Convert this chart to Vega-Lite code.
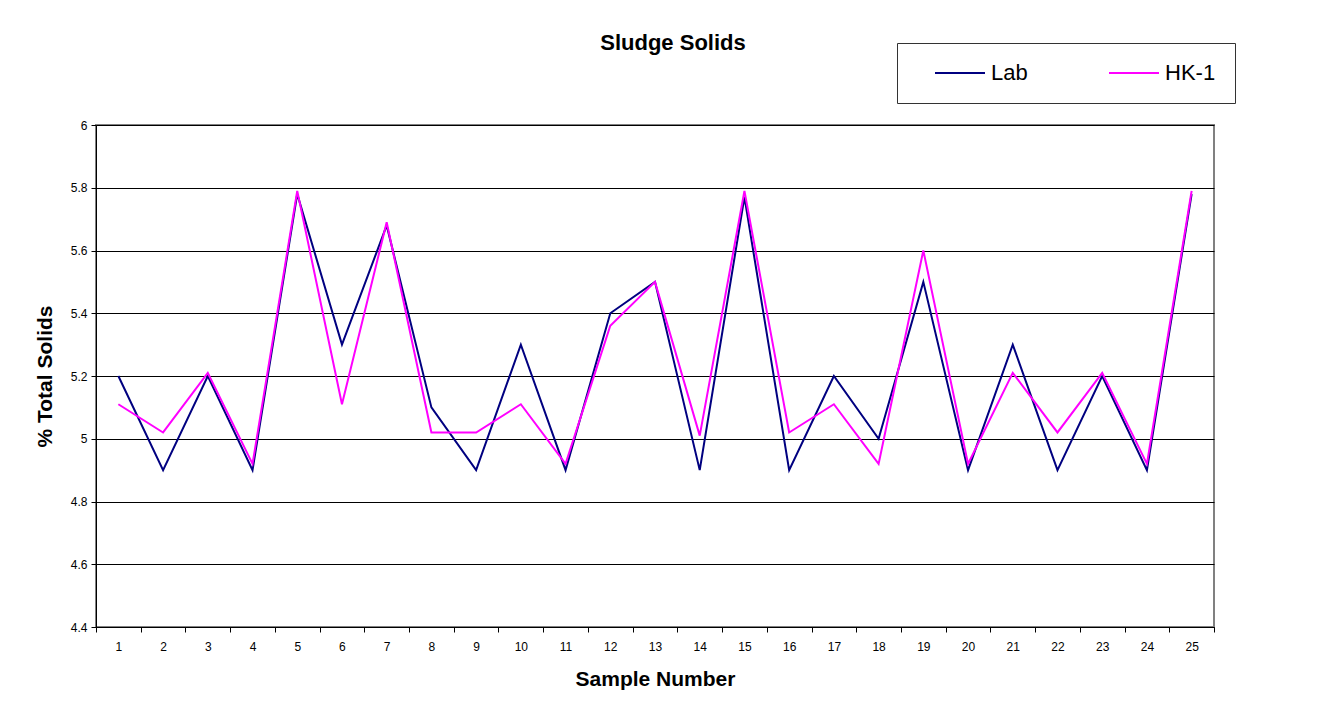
{
  "$schema": "https://vega.github.io/schema/vega-lite/v6.json",
  "autosize": {"type": "none"},
  "padding": {"left": 96, "top": 125, "right": 125, "bottom": 85},
  "width": 1118,
  "height": 502,
  "background": "white",
  "title": {
    "text": "Sludge Solids",
    "anchor": "middle",
    "frame": "group",
    "offset": -12,
    "dx": 18,
    "font": "Liberation Sans",
    "fontSize": 22,
    "fontWeight": "bold",
    "color": "black"
  },
  "data": {
    "values": [
      {"sample": 1, "series": "Lab", "solids": 5.2},
      {"sample": 2, "series": "Lab", "solids": 4.9},
      {"sample": 3, "series": "Lab", "solids": 5.2},
      {"sample": 4, "series": "Lab", "solids": 4.9},
      {"sample": 5, "series": "Lab", "solids": 5.78},
      {"sample": 6, "series": "Lab", "solids": 5.3},
      {"sample": 7, "series": "Lab", "solids": 5.68},
      {"sample": 8, "series": "Lab", "solids": 5.1},
      {"sample": 9, "series": "Lab", "solids": 4.9},
      {"sample": 10, "series": "Lab", "solids": 5.3},
      {"sample": 11, "series": "Lab", "solids": 4.9},
      {"sample": 12, "series": "Lab", "solids": 5.4},
      {"sample": 13, "series": "Lab", "solids": 5.5},
      {"sample": 14, "series": "Lab", "solids": 4.9},
      {"sample": 15, "series": "Lab", "solids": 5.77},
      {"sample": 16, "series": "Lab", "solids": 4.9},
      {"sample": 17, "series": "Lab", "solids": 5.2},
      {"sample": 18, "series": "Lab", "solids": 5.0},
      {"sample": 19, "series": "Lab", "solids": 5.5},
      {"sample": 20, "series": "Lab", "solids": 4.9},
      {"sample": 21, "series": "Lab", "solids": 5.3},
      {"sample": 22, "series": "Lab", "solids": 4.9},
      {"sample": 23, "series": "Lab", "solids": 5.2},
      {"sample": 24, "series": "Lab", "solids": 4.9},
      {"sample": 25, "series": "Lab", "solids": 5.78},
      {"sample": 1, "series": "HK-1", "solids": 5.11},
      {"sample": 2, "series": "HK-1", "solids": 5.02},
      {"sample": 3, "series": "HK-1", "solids": 5.21},
      {"sample": 4, "series": "HK-1", "solids": 4.92},
      {"sample": 5, "series": "HK-1", "solids": 5.79},
      {"sample": 6, "series": "HK-1", "solids": 5.11},
      {"sample": 7, "series": "HK-1", "solids": 5.69},
      {"sample": 8, "series": "HK-1", "solids": 5.02},
      {"sample": 9, "series": "HK-1", "solids": 5.02},
      {"sample": 10, "series": "HK-1", "solids": 5.11},
      {"sample": 11, "series": "HK-1", "solids": 4.92},
      {"sample": 12, "series": "HK-1", "solids": 5.36},
      {"sample": 13, "series": "HK-1", "solids": 5.5},
      {"sample": 14, "series": "HK-1", "solids": 5.01},
      {"sample": 15, "series": "HK-1", "solids": 5.79},
      {"sample": 16, "series": "HK-1", "solids": 5.02},
      {"sample": 17, "series": "HK-1", "solids": 5.11},
      {"sample": 18, "series": "HK-1", "solids": 4.92},
      {"sample": 19, "series": "HK-1", "solids": 5.6},
      {"sample": 20, "series": "HK-1", "solids": 4.92},
      {"sample": 21, "series": "HK-1", "solids": 5.21},
      {"sample": 22, "series": "HK-1", "solids": 5.02},
      {"sample": 23, "series": "HK-1", "solids": 5.21},
      {"sample": 24, "series": "HK-1", "solids": 4.92},
      {"sample": 25, "series": "HK-1", "solids": 5.79}
    ]
  },
  "mark": {"type": "line", "strokeWidth": 2},
  "encoding": {
    "x": {
      "field": "sample",
      "type": "ordinal",
      "scale": {"type": "band", "paddingInner": 0, "paddingOuter": 0},
      "axis": {
        "title": "Sample Number",
        "labelAngle": 0,
        "tickBand": "extent",
        "tickSize": 5,
        "tickColor": "black",
        "domainColor": "black",
        "labelPadding": 9,
        "labelFont": "Liberation Sans",
        "labelFontSize": 12,
        "labelColor": "black",
        "titleFont": "Liberation Sans",
        "titleFontSize": 21,
        "titleFontWeight": "bold",
        "titleColor": "black",
        "titlePadding": 16,
        "grid": false
      }
    },
    "y": {
      "field": "solids",
      "type": "quantitative",
      "scale": {"domain": [4.4, 6], "nice": false, "zero": false},
      "axis": {
        "title": "% Total Solids",
        "values": [4.4, 4.6, 4.8, 5, 5.2, 5.4, 5.6, 5.8, 6],
        "format": "~g",
        "tickSize": 5,
        "tickColor": "black",
        "domainColor": "black",
        "labelPadding": 4,
        "labelFont": "Liberation Sans",
        "labelFontSize": 12,
        "labelColor": "black",
        "titleFont": "Liberation Sans",
        "titleFontSize": 21,
        "titleFontWeight": "bold",
        "titleColor": "black",
        "titlePadding": 15,
        "grid": true,
        "gridColor": "black",
        "gridOpacity": 1,
        "gridWidth": 1
      }
    },
    "color": {
      "field": "series",
      "type": "nominal",
      "scale": {"domain": ["Lab", "HK-1"], "range": ["#000080", "#FF00FF"]},
      "legend": {
        "title": null,
        "orient": "none",
        "legendX": 801,
        "legendY": -82,
        "direction": "horizontal",
        "symbolType": "stroke",
        "symbolSize": 2500,
        "symbolStrokeWidth": 2,
        "symbolOffset": 18,
        "clipHeight": 22,
        "labelFont": "Liberation Sans",
        "labelFontSize": 22,
        "labelColor": "black",
        "labelOffset": 5,
        "columnPadding": 62,
        "padding": 19,
        "strokeColor": "#333333",
        "fillColor": "white"
      }
    }
  },
  "config": {
    "view": {"stroke": "#808080", "strokeWidth": 2}
  }
}
